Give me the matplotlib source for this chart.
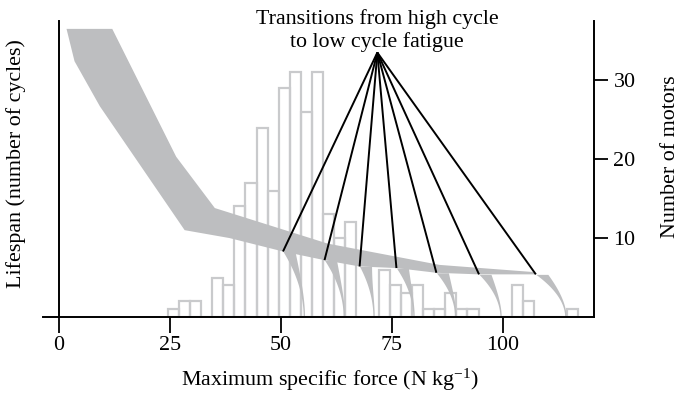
"""
Lifespan band of motors vs maximum specific force, with the histogram
of motor counts on a second axis.
"""
import numpy as np
import matplotlib
matplotlib.use("Agg")
import matplotlib.pyplot as plt

plt.rcParams["font.family"] = ["Liberation Serif", "DejaVu Serif"]
plt.rcParams["mathtext.fontset"] = "custom"
plt.rcParams["mathtext.rm"] = "Liberation Serif"
plt.rcParams["mathtext.it"] = "Liberation Serif:italic"

# histogram of motors (bins of 2.5 N/kg starting at 24.5)
bin_start = 24.5
bin_width = 2.5
motor_counts = [1, 2, 2, 0, 5, 4, 14, 17, 24, 16, 29, 31, 26, 31, 13, 10, 12,
                0, 0, 6, 4, 3, 4, 1, 1, 3, 1, 1, 0, 0, 0, 4, 2, 0, 0, 0, 1]

# lifespan band (arbitrary units)
upper_force = [12.0, 26.4, 35.1, 60.5, 85.7, 106.7]
upper_life = [36.5, 20.3, 13.8, 9.3, 6.6, 5.7]
lower_force = [1.7, 3.5, 9.2, 28.3, 38.4]
lower_life = [36.5, 32.4, 26.7, 11.0, 10.0]

# transitions from high cycle to low cycle fatigue
transition_force = [50.45, 59.8, 67.7, 76.0, 85.0, 94.6, 107.4]
transition_life = [8.3, 7.2, 6.4, 6.2, 5.6, 5.4, 5.4]
failure_force = [55.0, 64.0, 70.7, 79.7, 89.1, 99.3, 113.9]

apex = (71.7, 33.5)
band_gray = "#bdbec0"
bar_gray = "#c9cacc"
fs = 15.8

fig = plt.figure(figsize=(6.88, 3.93), dpi=100)
ax = fig.add_axes([0.0625, 0.1934, 0.8009, 0.7532])
ax_n = ax.twinx()

# histogram on the right axis
edges = bin_start + bin_width * np.arange(len(motor_counts))
ax_n.bar(edges, motor_counts, width=bin_width, align="edge", fill=False,
         edgecolor=bar_gray, linewidth=1.6)

# lifespan band
band_x = upper_force + transition_force[::-1] + lower_force[::-1]
band_y = upper_life + transition_life[::-1] + lower_life[::-1]
ax.fill(band_x, band_y, color=band_gray, lw=0)

# fatigue tails from each transition down to zero
for vt, lt, ve in zip(transition_force, transition_life, failure_force):
    y = np.linspace(0, lt, 60)
    s = y / lt
    left = ve - (ve - vt) * s ** 2
    right = left + 0.3 + 2.4 * s ** 2.5
    ax.fill_betweenx(y, left, right, color=band_gray, lw=0)

# pointer lines
for vt, lt in zip(transition_force, transition_life):
    ax.plot([apex[0], vt], [apex[1], lt], color="black", lw=1.4,
            solid_capstyle="butt")

ax.text(apex[0], 36.3, "Transitions from high cycle\nto low cycle fatigue",
        ha="center", va="center", fontsize=fs, linespacing=1.2,
        clip_on=False)

ax.set_zorder(ax_n.get_zorder() + 1)
ax.patch.set_visible(False)

ax.set_xlim(-3.6, 120.5)
ax.set_ylim(0, 37.5)
ax_n.set_ylim(0, 37.5)

ax.set_xticks([0, 25, 50, 75, 100])
ax.tick_params(axis="x", length=11.5, width=1.3, pad=2, labelsize=fs)
ax.tick_params(axis="y", left=False, labelleft=False)
ax_n.set_yticks([10, 20, 30])
ax_n.tick_params(axis="y", length=10, width=1.3, pad=4, labelsize=fs)

for side in ["top", "right"]:
    ax.spines[side].set_visible(False)
ax.spines["left"].set_position(("data", 0))
for side in ["top", "left", "bottom"]:
    ax_n.spines[side].set_visible(False)
for sp in [ax.spines["left"], ax.spines["bottom"], ax_n.spines["right"]]:
    sp.set_linewidth(1.4)

ax.set_xlabel("Maximum specific force (N kg$^{-1}$)", fontsize=fs)
ax.xaxis.set_label_coords(0.521, -0.168)
ax.set_ylabel("Lifespan (number of cycles)", fontsize=fs)
ax.yaxis.set_label_coords(-0.03, 0.52)
ax_n.set_ylabel("Number of motors", fontsize=fs)
ax_n.yaxis.set_label_coords(1.122, 0.54)

fig.savefig("out.png", dpi=100)
